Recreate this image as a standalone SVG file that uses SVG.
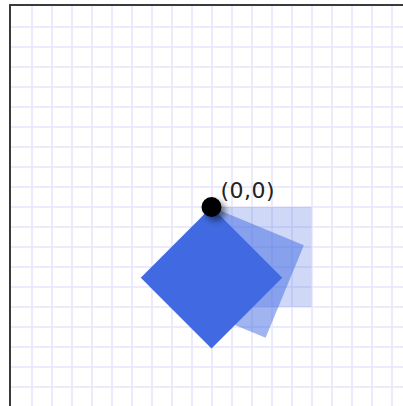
<svg xmlns="http://www.w3.org/2000/svg" width="403" height="406" viewBox="0 0 403 406">
<defs>
<style>
.grid line{stroke:#e4e4fd;stroke-width:1.5}
.sq{fill:#4169e1}
.lbl{font-family:"DejaVu Sans",sans-serif;font-size:22px;fill:#222}
</style>
<filter id="sh" x="-100%" y="-100%" width="300%" height="300%">
<feGaussianBlur in="SourceAlpha" stdDeviation="3"/>
<feOffset dx="4" dy="4" result="b"/>
<feComponentTransfer><feFuncA type="linear" slope="0.5"/></feComponentTransfer>
<feMerge><feMergeNode/><feMergeNode in="SourceGraphic"/></feMerge>
</filter>
</defs>
<rect x="0" y="0" width="403" height="406" fill="#fff"/>
<g class="grid" id="grid">
<line x1="32" y1="5" x2="32" y2="406"/><line x1="52" y1="5" x2="52" y2="406"/><line x1="72" y1="5" x2="72" y2="406"/><line x1="92" y1="5" x2="92" y2="406"/><line x1="112" y1="5" x2="112" y2="406"/><line x1="132" y1="5" x2="132" y2="406"/><line x1="152" y1="5" x2="152" y2="406"/><line x1="172" y1="5" x2="172" y2="406"/><line x1="192" y1="5" x2="192" y2="406"/><line x1="212" y1="5" x2="212" y2="406"/><line x1="232" y1="5" x2="232" y2="406"/><line x1="252" y1="5" x2="252" y2="406"/><line x1="272" y1="5" x2="272" y2="406"/><line x1="292" y1="5" x2="292" y2="406"/><line x1="312" y1="5" x2="312" y2="406"/><line x1="332" y1="5" x2="332" y2="406"/><line x1="352" y1="5" x2="352" y2="406"/><line x1="372" y1="5" x2="372" y2="406"/><line x1="392" y1="5" x2="392" y2="406"/>
<line x1="10" y1="27" x2="403" y2="27"/><line x1="10" y1="47" x2="403" y2="47"/><line x1="10" y1="67" x2="403" y2="67"/><line x1="10" y1="87" x2="403" y2="87"/><line x1="10" y1="107" x2="403" y2="107"/><line x1="10" y1="127" x2="403" y2="127"/><line x1="10" y1="147" x2="403" y2="147"/><line x1="10" y1="167" x2="403" y2="167"/><line x1="10" y1="187" x2="403" y2="187"/><line x1="10" y1="207" x2="403" y2="207"/><line x1="10" y1="227" x2="403" y2="227"/><line x1="10" y1="247" x2="403" y2="247"/><line x1="10" y1="267" x2="403" y2="267"/><line x1="10" y1="287" x2="403" y2="287"/><line x1="10" y1="307" x2="403" y2="307"/><line x1="10" y1="327" x2="403" y2="327"/><line x1="10" y1="347" x2="403" y2="347"/><line x1="10" y1="367" x2="403" y2="367"/><line x1="10" y1="387" x2="403" y2="387"/>
</g>
<path d="M10 406V5H403" fill="none" stroke="#3a3a3a" stroke-width="2"/>
<g transform="translate(211.5 207)">
<g id="square0"><rect class="sq" x="0" y="0" width="100" height="100" opacity="0.25"/></g>
<g id="square1"><rect class="sq" x="0" y="0" width="100" height="100" opacity="0.5" transform="rotate(22.5)"/></g>
<g id="square2"><rect class="sq" x="0" y="0" width="100" height="100" transform="rotate(45)"/></g>
<g id="origin"><circle cx="0" cy="0" r="10" fill="#000" filter="url(#sh)"/>
<text class="lbl" x="9" y="-9" letter-spacing="0.5">(0,0)</text></g>
</g>
</svg>
